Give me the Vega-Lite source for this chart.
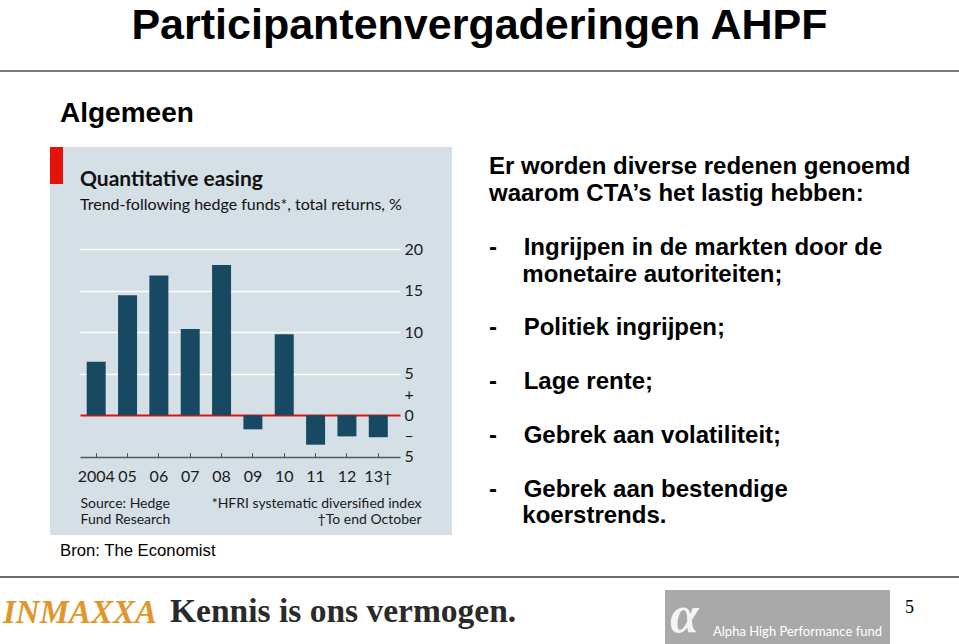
{
  "$schema": "https://vega.github.io/schema/vega-lite/v6.json",
  "padding": 0,
  "background": "#ffffff",
  "spacing": 0,
  "config": {"view": {"stroke": null}, "concat": {"spacing": 0}, "font": "Liberation Sans"},
  "vconcat": [
    {"width": 959, "height": 70, "data": {"values": []}, "mark": "point",
     "title": {"text": "Participantenvergaderingen AHPF", "orient": "bottom", "anchor": "middle", "frame": "group", "offset": -64.6, "font": "Liberation Sans", "fontSize": 43, "fontWeight": "bold", "color": "#000000", "limit": 2000}},
    {"width": 959, "height": 2, "data": {"values": []}, "mark": "point", "view": {"fill": "#7a7a7a", "stroke": null}},
    {"hconcat": [
      {"width": 50, "height": 504, "data": {"values": []}, "mark": "point"},
      {"vconcat": [
        {"width": 402, "height": 75, "data": {"values": []}, "mark": "point",
         "title": {"text": "Algemeen", "orient": "bottom", "anchor": "start", "frame": "group", "offset": -47.3, "dx": 10, "font": "Liberation Sans", "fontSize": 28, "fontWeight": "bold", "color": "#000000", "limit": 2000}},
        {"hconcat": [
          {"vconcat": [
            {"width": 13, "height": 37, "data": {"values": []}, "mark": "point", "view": {"fill": "#e3120b", "stroke": null}},
            {"width": 13, "height": 351, "data": {"values": []}, "mark": "point", "view": {"fill": "#d5dfe6", "stroke": null}}
          ], "spacing": 0},
          {"width": 389, "height": 388,
           "view": {"fill": "#d5dfe6", "stroke": null},
           "data": {"values": [
             {"year": "2004", "returns": 6.45},
             {"year": "05", "returns": 14.45},
             {"year": "06", "returns": 16.85},
             {"year": "07", "returns": 10.4},
             {"year": "08", "returns": 18.1},
             {"year": "09", "returns": -1.7},
             {"year": "10", "returns": 9.75},
             {"year": "11", "returns": -3.55},
             {"year": "12", "returns": -2.55},
             {"year": "13†", "returns": -2.65}
           ]},
           "mark": {"type": "bar", "color": "#174a62"},
           "title": {"text": "Quantitative easing", "subtitle": "Trend-following hedge funds*, total returns, %", "orient": "bottom", "anchor": "start", "frame": "group", "offset": -366.3, "dx": 17, "font": "Lato", "fontSize": 21, "fontWeight": "bold", "color": "#111111", "subtitleFont": "Lato", "subtitleFontSize": 16, "subtitleColor": "#111111", "subtitlePadding": 7.5, "limit": 2000},
           "encoding": {
             "x": {"field": "year", "type": "nominal", "sort": null,
                   "scale": {"range": [17, 337], "paddingInner": 0.394, "paddingOuter": 0.302, "align": 0.354},
                   "axis": {"orient": "bottom", "offset": -82.3, "domain": false, "grid": false, "ticks": true, "tickSize": 4.3, "tickColor": "#4d4d4d", "tickWidth": 1,
                            "labelAngle": 0, "labelFont": "Lato", "labelFontSize": 16, "labelColor": "#1a1a1a", "labelPadding": 11.7,
                            "title": ["Source: Hedge", "Fund Research"], "titleX": 17, "titleY": 55, "titleAlign": "left", "titleAngle": 0, "titleBaseline": "alphabetic",
                            "titleFont": "Lato", "titleFontSize": 14, "titleFontWeight": "normal", "titleColor": "#1a1a1a", "titleLineHeight": 15.6}},
             "y": {"field": "returns", "type": "quantitative",
                   "scale": {"domain": [-5, 20], "range": [309.7, 102.3], "nice": false, "zero": false},
                   "axis": {"orient": "left", "offset": -337, "domain": false, "ticks": false, "labelPadding": -4,
                            "values": [-5, -2.5, 0, 2.5, 5, 10, 15, 20],
                            "labelExpr": "datum.value == 2.5 ? '+' : (datum.value == -2.5 ? '–' : format(abs(datum.value), 'd'))",
                            "labelFont": "Lato", "labelFontSize": 16, "labelColor": "#1a1a1a", "labelAlign": "left",
                            "grid": true,
                            "gridColor": {"condition": [{"test": "datum.value === 0", "value": "#e3120b"}, {"test": "datum.value === -5", "value": "#555555"}], "value": "#ffffff"},
                            "gridOpacity": {"condition": {"test": "abs(datum.value) === 2.5", "value": 0}, "value": 1},
                            "gridWidth": {"condition": {"test": "datum.value === 0", "value": 2}, "value": 1.3},
                            "title": ["*HFRI systematic diversified index", "†To end October"], "titleX": 21, "titleY": 360.7, "titleAlign": "right", "titleAngle": 0, "titleBaseline": "alphabetic",
                            "titleFont": "Lato", "titleFontSize": 14, "titleFontWeight": "normal", "titleColor": "#1a1a1a", "titleLineHeight": 15.6}}
           }}
        ], "spacing": 0},
        {"width": 402, "height": 41, "data": {"values": []}, "mark": "point",
         "title": {"text": "Bron: The Economist", "orient": "bottom", "anchor": "start", "frame": "group", "offset": -33, "dx": 10, "font": "Liberation Sans", "fontSize": 16.7, "fontWeight": "normal", "color": "#000000", "limit": 2000}}
      ], "spacing": 0},
      {"width": 37, "height": 504, "data": {"values": []}, "mark": "point"},
      {"vconcat": [
        {"width": 470, "height": 158, "data": {"values": []}, "mark": "point",
         "title": {"text": ["Er worden diverse redenen genoemd", "waarom CTA’s het lastig hebben:"], "orient": "bottom", "anchor": "start", "frame": "group", "offset": -74.7, "font": "Liberation Sans", "fontSize": 24, "fontWeight": "bold", "color": "#000000", "lineHeight": 26.85, "limit": 2000}},
        {"width": 470, "height": 80, "data": {"values": []}, "mark": "point",
         "title": {"text": ["-\u00a0\u00a0\u00a0\u00a0Ingrijpen in de markten door de", "\u200b\u00a0\u00a0\u00a0\u00a0\u00a0monetaire autoriteiten;"], "orient": "bottom", "anchor": "start", "frame": "group", "offset": -74.15, "font": "Liberation Sans", "fontSize": 24, "fontWeight": "bold", "color": "#000000", "lineHeight": 26.85, "limit": 2000}},
        {"width": 470, "height": 55, "data": {"values": []}, "mark": "point",
         "title": {"text": "-\u00a0\u00a0\u00a0\u00a0Politiek ingrijpen;", "orient": "bottom", "anchor": "start", "frame": "group", "offset": -48.6, "font": "Liberation Sans", "fontSize": 24, "fontWeight": "bold", "color": "#000000", "lineHeight": 26.85, "limit": 2000}},
        {"width": 470, "height": 53, "data": {"values": []}, "mark": "point",
         "title": {"text": "-\u00a0\u00a0\u00a0\u00a0Lage rente;", "orient": "bottom", "anchor": "start", "frame": "group", "offset": -47.9, "font": "Liberation Sans", "fontSize": 24, "fontWeight": "bold", "color": "#000000", "lineHeight": 26.85, "limit": 2000}},
        {"width": 470, "height": 54, "data": {"values": []}, "mark": "point",
         "title": {"text": "-\u00a0\u00a0\u00a0\u00a0Gebrek aan volatiliteit;", "orient": "bottom", "anchor": "start", "frame": "group", "offset": -48.2, "font": "Liberation Sans", "fontSize": 24, "fontWeight": "bold", "color": "#000000", "lineHeight": 26.85, "limit": 2000}},
        {"width": 470, "height": 104, "data": {"values": []}, "mark": "point",
         "title": {"text": ["-\u00a0\u00a0\u00a0\u00a0Gebrek aan bestendige", "\u200b\u00a0\u00a0\u00a0\u00a0\u00a0koerstrends."], "orient": "bottom", "anchor": "start", "frame": "group", "offset": -98.5, "font": "Liberation Sans", "fontSize": 24, "fontWeight": "bold", "color": "#000000", "lineHeight": 26.85, "limit": 2000}}
      ], "spacing": 0}
    ], "spacing": 0},
    {"width": 959, "height": 2, "data": {"values": []}, "mark": "point", "view": {"fill": "#6e6e6e", "stroke": null}},
    {"hconcat": [
      {"width": 167, "height": 66, "data": {"values": []}, "mark": "point",
       "title": {"text": "INMAXXA", "orient": "bottom", "anchor": "start", "frame": "group", "offset": -47.3, "dx": 3, "font": "Liberation Serif", "fontSize": 33, "fontStyle": "italic", "fontWeight": "bold", "color": "#e0962a", "limit": 2000}},
      {"width": 498, "height": 66, "data": {"values": []}, "mark": "point",
       "title": {"text": "Kennis is ons vermogen.", "orient": "bottom", "anchor": "start", "frame": "group", "offset": -48.3, "dx": 3, "font": "Liberation Serif", "fontSize": 33.5, "fontWeight": "bold", "color": "#2a2a2a", "limit": 2000}},
      {"vconcat": [
        {"width": 225, "height": 12, "data": {"values": []}, "mark": "point"},
        {"hconcat": [
          {"width": 48, "height": 54, "data": {"values": []}, "mark": "point", "view": {"fill": "#a9a9a9", "stroke": null},
           "title": {"text": "α", "orient": "bottom", "anchor": "start", "frame": "group", "offset": -53, "dx": 5, "font": "Liberation Serif", "fontSize": 52, "fontStyle": "italic", "fontWeight": "bold", "color": "#f4f4f4", "limit": 2000}},
          {"width": 177, "height": 54, "data": {"values": []}, "mark": "point", "view": {"fill": "#a9a9a9", "stroke": null},
           "title": {"text": "Alpha High Performance fund", "orient": "bottom", "anchor": "start", "frame": "group", "offset": -17.7, "dx": 0, "font": "Lato", "fontSize": 13, "fontWeight": "normal", "color": "#ffffff", "limit": 2000}}
        ], "spacing": 0}
      ], "spacing": 0},
      {"width": 69, "height": 66, "data": {"values": []}, "mark": "point",
       "title": {"text": "5", "orient": "bottom", "anchor": "start", "frame": "group", "offset": -44.7, "dx": 15, "font": "Liberation Serif", "fontSize": 18, "fontWeight": "normal", "color": "#000000", "limit": 2000}}
    ], "spacing": 0}
  ]
}
